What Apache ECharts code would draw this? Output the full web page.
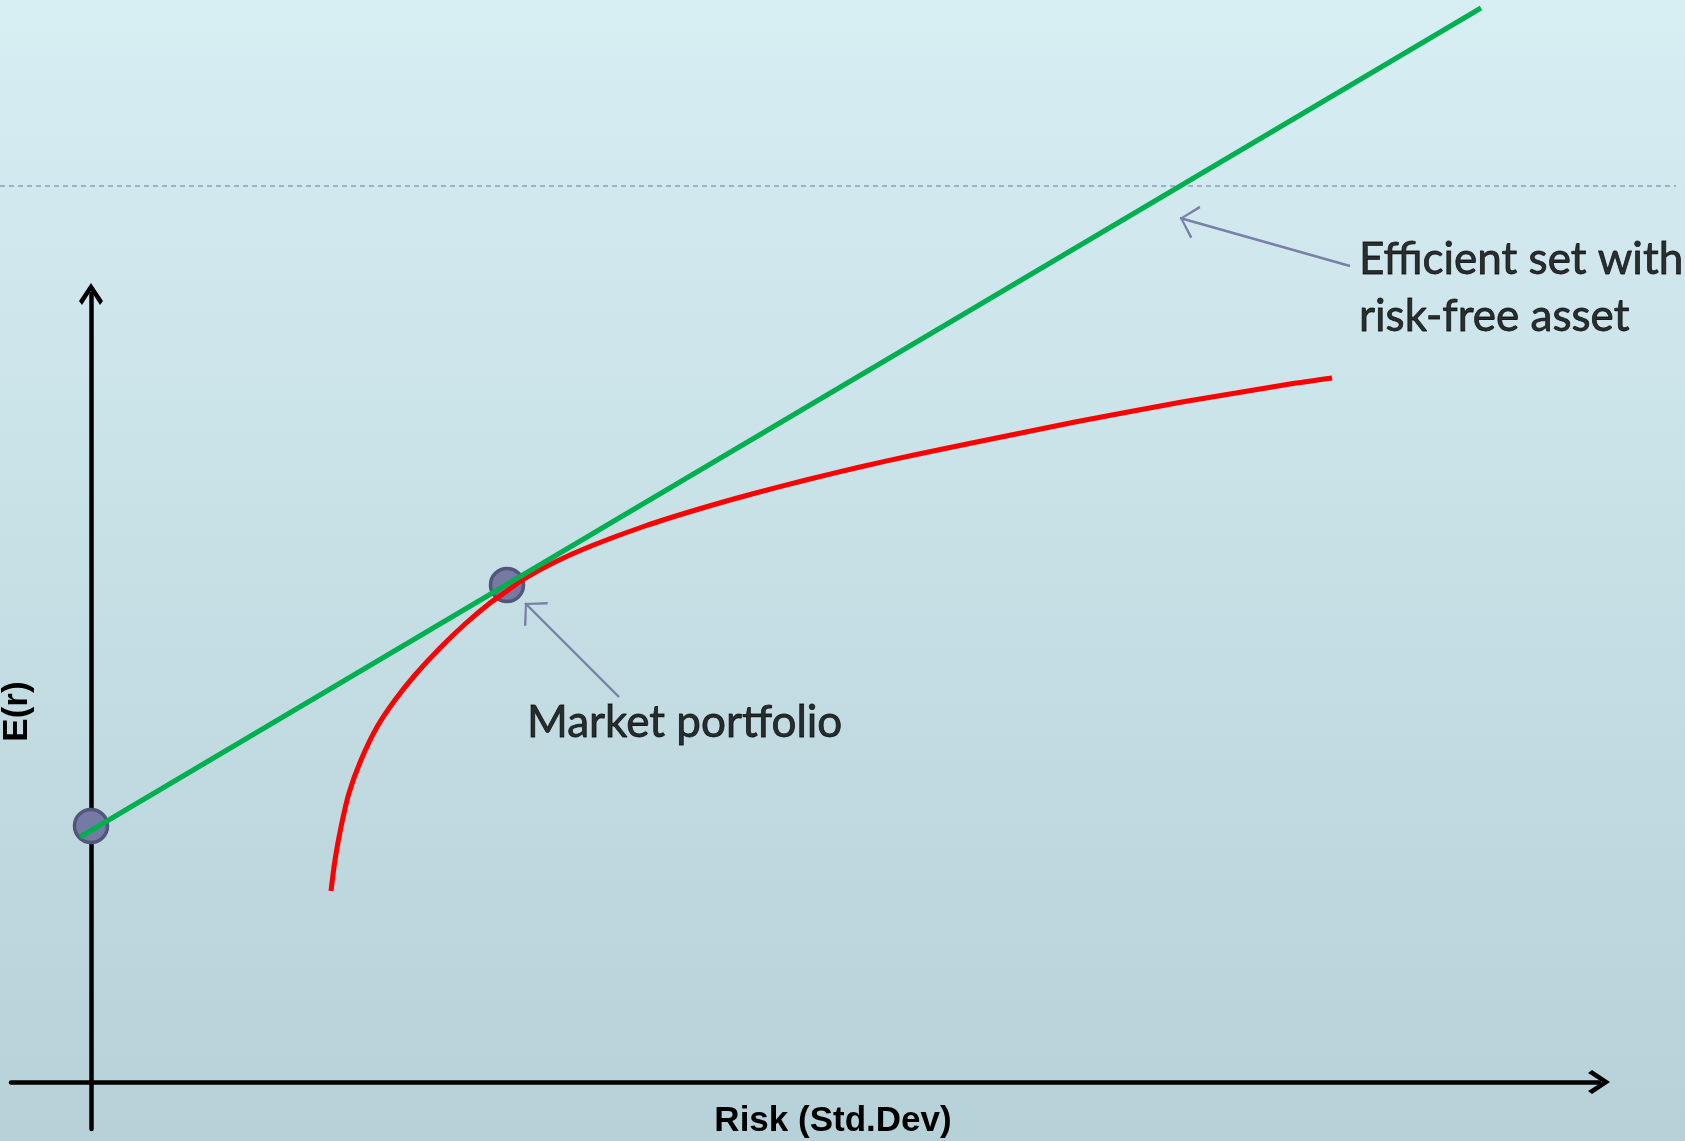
<!DOCTYPE html>
<html>
<head>
<meta charset="utf-8">
<script src="https://cdn.jsdelivr.net/npm/echarts@6/dist/echarts.min.js"></script>
<style>
html, body { margin: 0; padding: 0; }
#main { width: 1685px; height: 1141px; }
</style>
</head>
<body>
<div id="main"></div>
<script>
var chartDom = document.getElementById('main');
var myChart = echarts.init(chartDom);
var option;

// efficient frontier (red), risk vs expected return
let frontierRisk = [2.40, 2.44, 2.50, 2.58, 2.70, 2.86, 3.04, 3.24, 3.49, 3.74, 3.99, 4.16, 4.31,
  4.64, 5.00, 5.54, 6.08, 6.61, 7.15, 7.69, 8.23, 8.76, 9.30, 9.84, 10.37, 10.91, 11.45, 11.99, 12.41];
let frontierReturn = [1.91, 2.22, 2.55, 2.89, 3.22, 3.55, 3.82, 4.07, 4.34, 4.58, 4.79, 4.91, 5.02,
  5.20, 5.36, 5.56, 5.73, 5.88, 6.02, 6.15, 6.27, 6.38, 6.49, 6.60, 6.70, 6.80, 6.89, 6.98, 7.04];

// efficient set with risk-free asset (green)
let cmlRisk = [-0.11, 13.90];
let cmlReturn = [2.45, 10.74];

// the two portfolios
let pointNames = ['Risk-free asset', 'Market portfolio'];
let pointRisk = [0, 4.16];
let pointReturn = [2.56, 4.97];

// annotation arrows: [from, to]
let arrowFrom = [[5.28, 3.85], [12.59, 8.16]];
let arrowTo = [[4.34, 4.79], [10.89, 8.64]];

// annotation texts and where they start
let noteTexts = ['Market portfolio', 'Efficient set with\nrisk-free asset'];
let notePos = [[4.36, 3.59], [12.68, 7.94]];

let axisArrow = 'path://M12,0 L24,18 L21,22 L12,8 L3,22 L0,18 Z';
// open arrow head, tip in the middle of its box so it sits on the line end
let thinArrow = 'path://M10,15 L20,28.6 L18.8,30 L10,17.4 L1.2,30 L0,28.6 Z M10,0 L10.01,0 L10,0.01 Z';

function pairs(xs, ys) {
  let out = [];
  for (var i = 0; i < xs.length; i++) {
    out.push([xs[i], ys[i]]);
  }
  return out;
}

let arrowLines = [];
for (var i = 0; i < arrowFrom.length; i++) {
  arrowLines.push({ coords: [arrowFrom[i], arrowTo[i]] });
}

let notes = [];
for (var i = 0; i < noteTexts.length; i++) {
  notes.push({ value: notePos[i], name: noteTexts[i] });
}

option = {
  animation: false,
  backgroundColor: {
    type: 'linear', x: 0, y: 0, x2: 0, y2: 1,
    colorStops: [
      { offset: 0, color: '#d7eef3' },
      { offset: 1, color: '#b6d1d8' }
    ]
  },
  graphic: [
    {
      type: 'line',
      shape: { x1: 0, y1: 186, x2: 1676, y2: 186 },
      style: { stroke: '#9fb0c8', lineWidth: 2, lineDash: [5, 4] }
    }
  ],
  grid: {
    left: 11,
    right: 86,
    top: 294,
    bottom: 12,
    containLabel: false,
    outerBoundsMode: 'none'
  },
  xAxis: {
    type: 'value',
    min: -0.80,
    max: 15.08,
    name: 'Risk (Std.Dev)',
    nameLocation: 'middle',
    nameGap: -25,
    nameTextStyle: {
      fontFamily: 'Liberation Sans',
      fontWeight: 'bold',
      fontSize: 35,
      color: '#000',
      padding: [0, 0, 0, 56]
    },
    axisLine: {
      onZero: true,
      symbol: ['none', axisArrow],
      symbolSize: [24, 22],
      lineStyle: { color: '#000', width: 4.5 }
    },
    axisTick: { show: false },
    axisLabel: { show: false },
    splitLine: { show: false }
  },
  yAxis: {
    type: 'value',
    min: -0.47,
    max: 7.88,
    name: 'E(r)',
    nameLocation: 'middle',
    nameGap: -24,
    nameTextStyle: {
      fontFamily: 'Liberation Sans',
      fontWeight: 'bold',
      fontSize: 35,
      color: '#000'
    },
    axisLine: {
      onZero: true,
      symbol: ['none', axisArrow],
      symbolSize: [24, 22],
      lineStyle: { color: '#000', width: 4.5 }
    },
    axisTick: { show: false },
    axisLabel: { show: false },
    splitLine: { show: false }
  },
  series: [
    {
      name: 'Portfolios',
      type: 'scatter',
      z: 2,
      data: pairs(pointRisk, pointReturn),
      symbolSize: 33,
      itemStyle: { color: '#747aa3', borderColor: '#51567a', borderWidth: 3.5, opacity: 1 }
    },
    {
      name: 'Efficient frontier',
      type: 'line',
      z: 3,
      data: pairs(frontierRisk, frontierReturn),
      smooth: 0.25,
      showSymbol: false,
      clip: false,
      lineStyle: { color: '#ff0000', width: 5 }
    },
    {
      name: 'Efficient set with risk-free asset',
      type: 'line',
      z: 4,
      data: pairs(cmlRisk, cmlReturn),
      showSymbol: false,
      clip: false,
      lineStyle: { color: '#00b050', width: 5 }
    },
    {
      name: 'Arrows',
      type: 'lines',
      coordinateSystem: 'cartesian2d',
      z: 5,
      clip: false,
      silent: true,
      symbol: ['none', thinArrow],
      symbolSize: 34,
      lineStyle: { color: '#7980a8', width: 2.4, opacity: 1, curveness: 0 },
      data: arrowLines
    },
    {
      name: 'Notes',
      type: 'scatter',
      z: 6,
      symbolSize: 0,
      clip: false,
      silent: true,
      data: notes,
      label: {
        show: true,
        position: 'inside',
        align: 'left',
        verticalAlign: 'middle',
        formatter: function (p) { return p.name; },
        fontFamily: 'Lato',
        fontSize: 44,
        lineHeight: 57,
        color: '#000',
        textBorderColor: '#000',
        textBorderWidth: 0.8
      }
    }
  ]
};

option && myChart.setOption(option);
</script>
</body>
</html>
